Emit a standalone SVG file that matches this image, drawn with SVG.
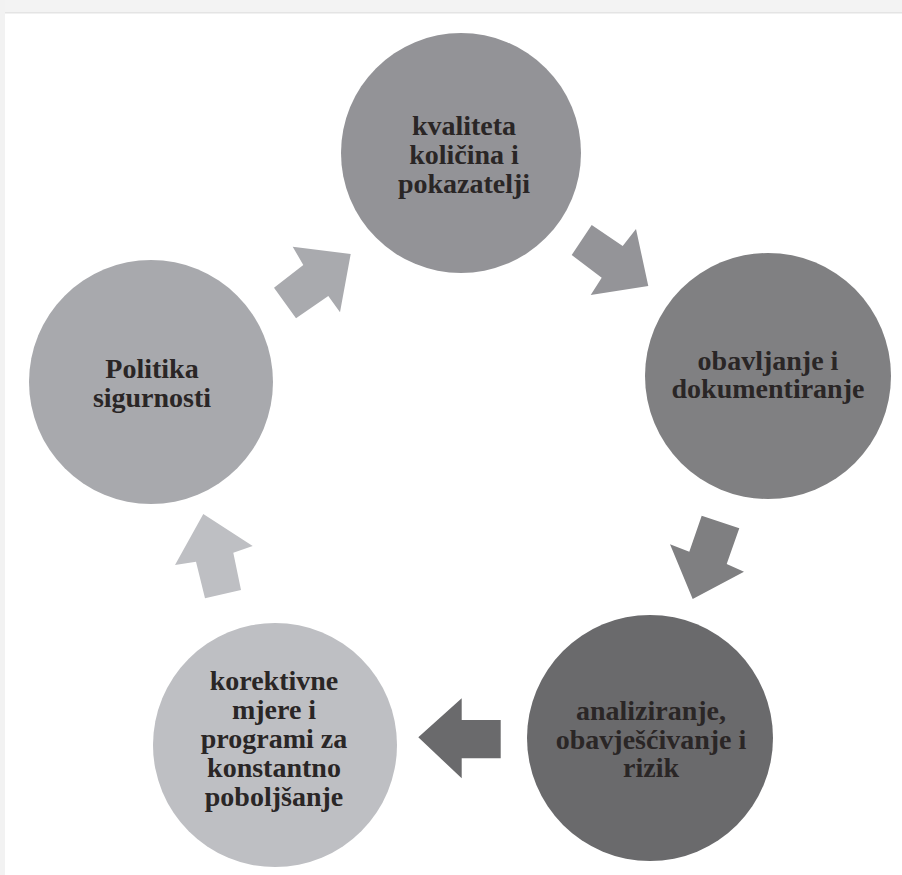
<svg xmlns="http://www.w3.org/2000/svg" width="902" height="875" viewBox="0 0 902 875">
<style>
.lbl{font-family:"Liberation Serif","Times New Roman",serif;font-weight:bold;font-size:28px;fill:#2a2626;text-anchor:middle}
</style>
<rect x="0" y="0" width="902" height="875" fill="#ffffff"/>
<rect x="0" y="0" width="902" height="12" fill="#f3f3f3"/>
<rect x="0" y="12" width="902" height="1.5" fill="#e4e4e4"/>
<rect x="0" y="0" width="5" height="875" fill="#f2f2f2"/>
<g id="connectors">
<polygon points="292.7,246.7 350.7,254 340,312.3 328.3,296 296,318.3 274,287.7 303.3,265" fill="#a9aaae"/>
<polygon points="591.7,225 622.7,246 636,229 648.3,286 590.7,295 601.7,277.7 571.7,255" fill="#949498"/>
<polygon points="701.7,515.7 739.3,528.3 726.7,564 744,571.7 692.7,599 670,544.3 689.3,551.7" fill="#7f7f81"/>
<polygon points="461.7,698.3 461.7,720 500.7,720 500.7,758.3 461.7,758.3 461.7,778.3 418.3,737.3" fill="#6a6a6c"/>
<polygon points="203.3,514 252.7,546 233.3,552.7 241,590 205,598.3 196,561.7 175,565" fill="#bebfc3"/>
</g>
<g id="node-kvaliteta">
<circle cx="461" cy="153" r="120" fill="#939397"/>
<text class="lbl" x="464" y="135">kvaliteta</text>
<text class="lbl" x="464" y="164">količina i</text>
<text class="lbl" x="464" y="193">pokazatelji</text>
</g>
<g id="node-obavljanje">
<circle cx="768" cy="376" r="123" fill="#808082"/>
<text class="lbl" x="768" y="370">obavljanje i</text>
<text class="lbl" x="768" y="398">dokumentiranje</text>
</g>
<g id="node-analiziranje">
<circle cx="650" cy="738" r="123" fill="#6a6a6c"/>
<text class="lbl" x="651" y="720">analiziranje,</text>
<text class="lbl" x="651" y="749">obavješćivanje i</text>
<text class="lbl" x="651" y="777">rizik</text>
</g>
<g id="node-korektivne">
<circle cx="275" cy="745" r="122" fill="#bebfc3"/>
<text class="lbl" x="274" y="690">korektivne</text>
<text class="lbl" x="274" y="719">mjere i</text>
<text class="lbl" x="274" y="748">programi za</text>
<text class="lbl" x="274" y="777">konstantno</text>
<text class="lbl" x="274" y="806">poboljšanje</text>
</g>
<g id="node-politika">
<circle cx="151" cy="382" r="122" fill="#a8a9ad"/>
<text class="lbl" x="152" y="378">Politika</text>
<text class="lbl" x="152" y="407">sigurnosti</text>
</g>
</svg>
